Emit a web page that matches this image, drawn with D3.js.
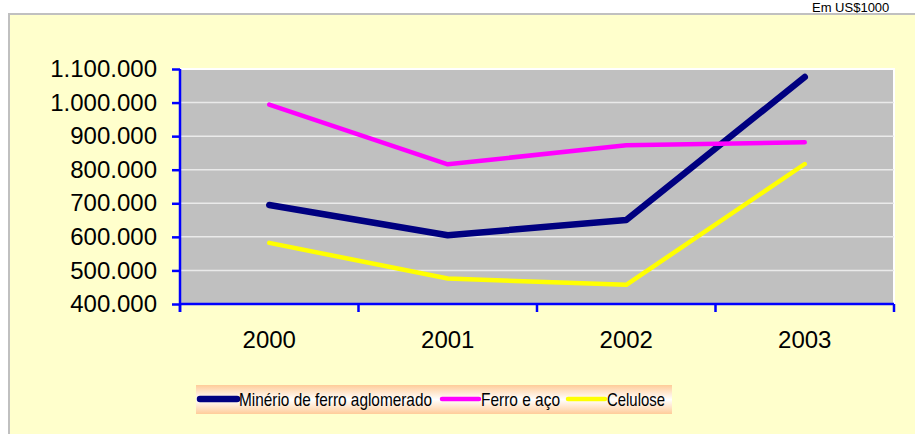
<!DOCTYPE html>
<html>
<head>
<meta charset="utf-8">
<title>Exportações</title>
<script src="https://cdnjs.cloudflare.com/ajax/libs/d3/7.8.5/d3.min.js"></script>
<style>
  body { margin: 0; background: #fff; }
  svg { display: block; font-family: "Liberation Sans", Arial, sans-serif; }
</style>
</head>
<body>
<script>
const years = ['2000', '2001', '2002', '2003'];
const minerio = [695000, 605000, 650000, 1076000];
const ferroAco = [994000, 816000, 873000, 882000];
const celulose = [582000, 476000, 457000, 817000];
const yTicks = [400000, 500000, 600000, 700000, 800000, 900000, 1000000, 1100000];
const seriesNames = ['Minério de ferro aglomerado', 'Ferro e aço', 'Celulose'];

const width = 915, height = 434;
const plot = { left: 180, right: 894, top: 69, bottom: 304 };

const svg = d3.select('body').append('svg')
  .attr('width', width)
  .attr('height', height);

// unit note
svg.append('text')
  .attr('x', 812).attr('y', 12)
  .attr('font-size', 13)
  .attr('fill', '#000')
  .text('Em US$1000');

// chart area
svg.append('rect')
  .attr('x', 9).attr('y', 14)
  .attr('width', 920).attr('height', 440)
  .attr('fill', '#FFFFCC')
  .attr('stroke', '#C0C0C0')
  .attr('stroke-width', 2);

const x = d3.scaleBand()
  .domain(years)
  .range([plot.left, plot.right]);

const y = d3.scaleLinear()
  .domain([400000, 1100000])
  .range([plot.bottom, plot.top]);

// plot area
svg.append('rect')
  .attr('x', plot.left).attr('y', plot.top)
  .attr('width', plot.right - plot.left)
  .attr('height', plot.bottom - plot.top)
  .attr('fill', '#C0C0C0')
  .attr('stroke', '#FFFFFF')
  .attr('stroke-width', 2);

// gridlines
svg.append('g')
  .selectAll('line')
  .data(yTicks.slice(1, -1))
  .join('line')
  .attr('x1', plot.left).attr('x2', plot.right)
  .attr('y1', d => y(d)).attr('y2', d => y(d))
  .attr('stroke', '#EAEAEA')
  .attr('stroke-width', 1.5);

const fmt = d => d3.format(',')(d).replace(/,/g, '.');

// y axis
const yAxis = svg.append('g')
  .attr('transform', `translate(${plot.left},0)`)
  .call(d3.axisLeft(y).tickValues(yTicks).tickFormat(fmt).tickSize(8).tickPadding(15));
yAxis.select('.domain').attr('stroke', '#0000FF').attr('stroke-width', 2.5)
  .attr('d', `M0,${plot.top}V${plot.bottom + 8}`);
yAxis.selectAll('.tick line').attr('stroke', '#0000FF').attr('stroke-width', 2.5);
yAxis.selectAll('.tick text')
  .attr('font-size', 24).attr('fill', '#000')
  .attr('font-family', '"Liberation Sans", Arial, sans-serif');

// x axis
const xAxis = svg.append('g')
  .attr('transform', `translate(0,${plot.bottom})`)
  .call(d3.axisBottom(x).tickSize(0).tickPadding(27));
xAxis.select('.domain').attr('stroke', '#0000FF').attr('stroke-width', 2.5)
  .attr('d', `M${plot.left},0H${plot.right}`);
xAxis.selectAll('.tick text')
  .attr('font-size', 24).attr('fill', '#000')
  .attr('font-family', '"Liberation Sans", Arial, sans-serif');
xAxis.selectAll('line.sep')
  .data(years.map(d => x(d)).concat([x.range()[1]]))
  .join('line')
  .attr('class', 'sep')
  .attr('x1', d => d).attr('x2', d => d)
  .attr('y1', 0).attr('y2', 8)
  .attr('stroke', '#0000FF').attr('stroke-width', 2.5);

// series
const series = [
  { name: seriesNames[0], values: minerio, color: '#000080', w: 6.5 },
  { name: seriesNames[1], values: ferroAco, color: '#FF00FF', w: 4.5 },
  { name: seriesNames[2], values: celulose, color: '#FFFF00', w: 4.5 }
];

const line = d3.line()
  .x((d, i) => x(years[i]) + x.bandwidth() / 2)
  .y(d => y(d));

svg.append('g')
  .selectAll('path')
  .data(series)
  .join('path')
  .attr('d', d => line(d.values))
  .attr('fill', 'none')
  .attr('stroke', d => d.color)
  .attr('stroke-width', d => d.w)
  .attr('stroke-linecap', 'round')
  .attr('stroke-linejoin', 'round');

// legend
const defs = svg.append('defs');
const grad = defs.append('linearGradient')
  .attr('id', 'legendGrad')
  .attr('x1', 0).attr('y1', 0).attr('x2', 0).attr('y2', 1);
grad.append('stop').attr('offset', '0%').attr('stop-color', '#FFCC99');
grad.append('stop').attr('offset', '50%').attr('stop-color', '#FFFFFF');
grad.append('stop').attr('offset', '100%').attr('stop-color', '#FFCC99');

const legend = svg.append('g').attr('transform', 'translate(196,385)');
legend.append('rect')
  .attr('width', 476).attr('height', 29)
  .attr('fill', 'url(#legendGrad)');

const legendX = [2, 244, 370];
const item = legend.selectAll('g.item')
  .data(series)
  .join('g')
  .attr('class', 'item')
  .attr('transform', (d, i) => `translate(${legendX[i]},14)`);
item.append('line')
  .attr('x1', 2).attr('x2', 39)
  .attr('stroke', d => d.color)
  .attr('stroke-width', d => d.w)
  .attr('stroke-linecap', 'round');
item.append('text')
  .attr('x', 41).attr('y', 7)
  .attr('font-size', 19)
  .attr('textLength', (d, i) => [193, 79, 58][i])
  .attr('lengthAdjust', 'spacingAndGlyphs')
  .attr('fill', '#000')
  .text(d => d.name);
</script>
</body>
</html>
